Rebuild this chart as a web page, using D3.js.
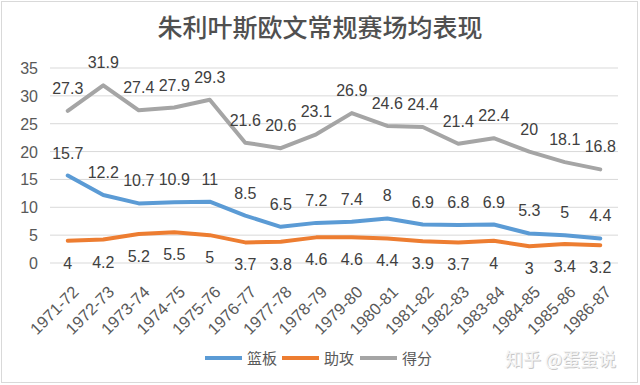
<!DOCTYPE html>
<html>
<head>
<meta charset="utf-8">
<script src="https://cdn.jsdelivr.net/npm/d3@7"></script>
<style>
  body { margin: 0; background: #fff; }
  svg { display: block; font-family: "Liberation Sans", Arial, sans-serif; }
</style>
</head>
<body>
<script>
const seasons = ["1971-72","1972-73","1973-74","1974-75","1975-76","1976-77","1977-78","1978-79",
                 "1979-80","1980-81","1981-82","1982-83","1983-84","1984-85","1985-86","1986-87"];
const rebounds = [15.7,12.2,10.7,10.9,11,8.5,6.5,7.2,7.4,8,6.9,6.8,6.9,5.3,5,4.4];
const assists  = [4,4.2,5.2,5.5,5,3.7,3.8,4.6,4.6,4.4,3.9,3.7,4,3,3.4,3.2];
const points   = [27.3,31.9,27.4,27.9,29.3,21.6,20.6,23.1,26.9,24.6,24.4,21.4,22.4,20,18.1,16.8];
const yTicks = [0,5,10,15,20,25,30,35];

const series = [
  {name:"篮板", values:rebounds, color:"#5b9bd5", pos:"above"},
  {name:"助攻", values:assists,  color:"#ed7d31", pos:"below"},
  {name:"得分", values:points,   color:"#a5a5a5", pos:"above"}
];

const w = 640, h = 385;
const svg = d3.select("body").append("svg").attr("width", w).attr("height", h);

svg.append("rect").attr("x",1.5).attr("y",1.5).attr("width",636).attr("height",381)
  .attr("fill","#fff").attr("stroke","#d9d9d9");

svg.append("text").attr("x",320).attr("y",37).attr("text-anchor","middle")
  .attr("font-family","'Noto Sans CJK SC', sans-serif").attr("font-size",25)
  .attr("font-weight",500).attr("fill","#505050").text("朱利叶斯欧文常规赛场均表现");

const x = d3.scaleBand().domain(seasons).range([50, 618]);
const y = d3.scaleLinear().domain([0, 35]).range([263, 68]);
const cx = s => x(s) + x.bandwidth() / 2;

// grid
svg.append("g").selectAll("line").data(yTicks).enter().append("line")
  .attr("x1",50).attr("x2",618).attr("y1",d=>y(d)).attr("y2",d=>y(d))
  .attr("stroke","#d9d9d9").attr("stroke-width",1);

svg.append("g").selectAll("text").data(yTicks).enter().append("text")
  .attr("x",38).attr("y",d=>y(d)+6).attr("text-anchor","end")
  .attr("font-size",16).attr("fill","#595959").text(d=>d);

svg.append("g").selectAll("text").data(seasons).enter().append("text")
  .attr("text-anchor","end").attr("font-size",16.5).attr("fill","#595959")
  .attr("transform",d=>`translate(${cx(d)+12},${293}) rotate(-45)`)
  .text(d=>d);

const line = d3.line().x((d,i)=>cx(seasons[i])).y(d=>y(d));

series.forEach(s => {
  svg.append("path").datum(s.values).attr("d", line)
    .attr("fill","none").attr("stroke",s.color).attr("stroke-width",4)
    .attr("stroke-linejoin","round").attr("stroke-linecap","round");
});

series.forEach(s => {
  svg.append("g").selectAll("text").data(s.values).enter().append("text")
    .attr("x",(d,i)=>cx(seasons[i]))
    .attr("y",d=> s.pos==="above" ? y(d)-17 : y(d)+28)
    .attr("text-anchor","middle").attr("font-size",16).attr("fill","#404040")
    .text(d=>d);
});

// legend
const legend = svg.append("g").attr("font-family","'Noto Sans CJK SC', sans-serif");
const lx = [205, 282, 360];
series.forEach((s,i) => {
  legend.append("line").attr("x1",lx[i]).attr("x2",lx[i]+37).attr("y1",358).attr("y2",358)
    .attr("stroke",s.color).attr("stroke-width",4);
  legend.append("text").attr("x",lx[i]+42).attr("y",364).attr("font-size",15)
    .attr("fill","#595959").text(s.name);
});

// watermark
const wm = svg.append("g").attr("font-family","'Noto Sans CJK SC', sans-serif").attr("font-size",18);
wm.append("text").attr("x",506).attr("y",367).attr("fill","#c8c8c8").text("知乎 @蛋蛋说");
wm.append("text").attr("x",505).attr("y",366).attr("fill","#f4f4f4").text("知乎 @蛋蛋说");
</script>
</body>
</html>
